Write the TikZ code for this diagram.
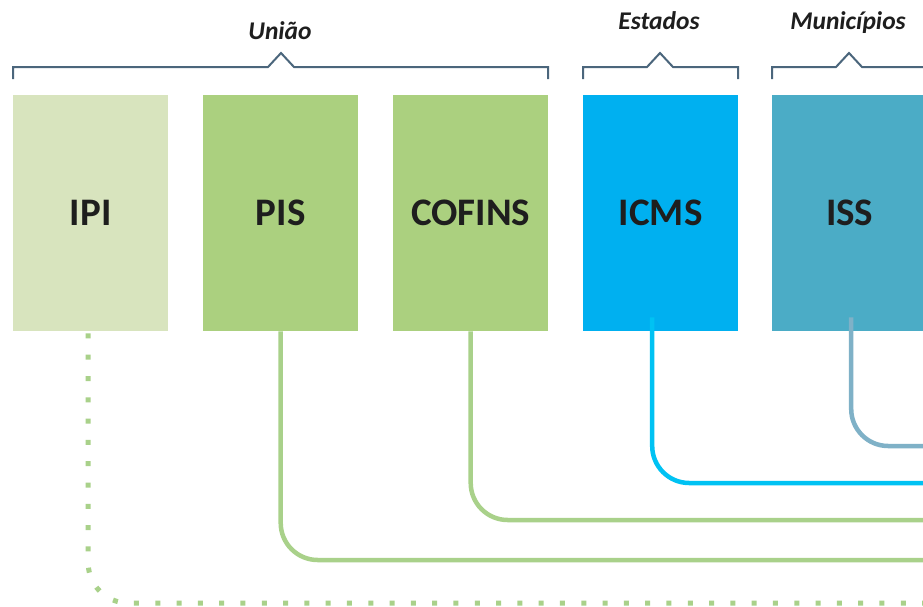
\documentclass[tikz,border=0pt]{standalone}
\usepackage{fontspec}
\setmainfont{Carlito}
\definecolor{ipiC}{HTML}{D8E4BE}
\definecolor{greenC}{HTML}{ABD07F}
\definecolor{greenL}{HTML}{A9D18A}
\definecolor{icmsC}{HTML}{00B0F0}
\definecolor{icmsL}{HTML}{00C2F3}
\definecolor{issC}{HTML}{4BACC6}
\definecolor{issL}{HTML}{7FB1C7}
\definecolor{brC}{HTML}{4B667C}
\definecolor{txtC}{HTML}{1E1E1E}
\begin{document}
\begin{tikzpicture}[x=1pt,y=-1pt,
  taxbox/.style={anchor=north west, inner sep=0pt, minimum width=155pt, minimum height=236pt,
    font=\fontsize{39}{39}\selectfont\bfseries, text=txtC},
  bracketline/.style={draw=brC, line width=2pt, line join=miter},
  grouplabel/.style={anchor=base, font=\fontsize{25.5}{25.5}\selectfont\bfseries\itshape, text=txtC},
  conn/.style={line width=4.5pt, rounded corners=37pt},
  dotconn/.style={line width=5pt, color=greenL, dash pattern=on 5pt off 16.3pt, rounded corners=40pt}]
\clip (0,0) rectangle (923,606);
\fill[white] (0,0) rectangle (923,606);
% free ends of connectors (beyond the right edge)
\coordinate (eIPI) at (935,603);
\coordinate (ePIS) at (935,560);
\coordinate (eCOF) at (935,520);
\coordinate (eICMS) at (935,483);
\coordinate (eISS) at (935,446);
% boxes
\node[taxbox, fill=ipiC] (ipi) at (13,95) {IPI};
\node[taxbox, fill=greenC] (pis) at (203,95) {PIS};
\node[taxbox, fill=greenC] (cofins) at (393,95) {COFINS};
\node[taxbox, fill=icmsC] (icms) at (583,95) {ICMS};
\node[taxbox, fill=issC] (iss) at (772,95) {ISS};
% connectors
\draw[dotconn] ([xshift=-2.5pt,yshift=-2pt]ipi.south) |- (eIPI);
\draw[conn, greenL] (pis.south) |- (ePIS);
\draw[conn, greenL] (cofins.south) |- (eCOF);
\draw[conn, icmsL] ([xshift=-8.5pt,yshift=14pt]icms.south) |- (eICMS);
\draw[conn, issL] ([xshift=1.5pt,yshift=14pt]iss.south) |- (eISS);
% brackets
\draw[bracketline] (13,79) -- (13,67) -- (268,67) -- (281,53) -- (294,67) -- (548,67) -- (548,79);
\draw[bracketline] (583,79) -- (583,67) -- (647,67) -- (660,53) -- (673,67) -- (738,67) -- (738,79);
\draw[bracketline] (772,79) -- (772,67) -- (836,67) -- (849,53) -- (862,67) -- (930,67);
% group labels
\node[grouplabel] (uniao) at (280,39.5) {União};
\node[grouplabel] (estados) at (659,29.3) {Estados};
\node[grouplabel] (munic) at (848,29.3) {Municípios};
\end{tikzpicture}
\end{document}
